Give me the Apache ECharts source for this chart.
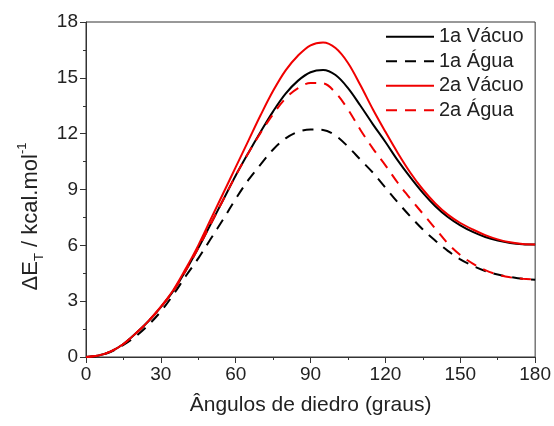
<!DOCTYPE html>
<html>
<head>
<meta charset="utf-8">
<script src="https://cdn.jsdelivr.net/npm/echarts@6/dist/echarts.min.js"></script>
<style>
  html, body { margin: 0; padding: 0; background: #fff; }
  #chart { width: 554px; height: 426px; }
</style>
</head>
<body>
<div id="chart"></div>
<script>
// Dihedral angle (degrees)
const angles = [0,5,10,15,20,25,30,35,40,45,50,55,60,65,70,75,80,85,90,95,100,105,110,115,120,125,130,135,140,145,150,155,160,165,170,175,180];
// 1a Vácuo (black solid)
const vacuo1 = [0,0.08,0.3,0.7,1.27,1.92,2.68,3.55,4.65,5.85,7.15,8.45,9.75,10.95,12.1,13.2,14.15,14.85,15.3,15.42,15.15,14.45,13.5,12.5,11.55,10.55,9.65,8.82,8.1,7.52,7.07,6.72,6.45,6.26,6.13,6.06,6.04];
// 1a Água (black dashed)
const agua1 = [0,0.07,0.28,0.65,1.12,1.72,2.45,3.35,4.35,5.3,6.35,7.4,8.5,9.5,10.35,11.15,11.75,12.1,12.22,12.2,11.9,11.3,10.6,9.9,9.1,8.3,7.55,6.85,6.25,5.7,5.25,4.9,4.62,4.43,4.3,4.2,4.15];
// 2a Vácuo (red solid)
const vacuo2 = [0,0.08,0.3,0.7,1.28,1.93,2.7,3.6,4.75,6.0,7.4,8.8,10.2,11.6,13.0,14.3,15.4,16.2,16.75,16.9,16.6,15.8,14.6,13.3,12.1,10.95,9.9,9.0,8.25,7.65,7.2,6.85,6.55,6.32,6.16,6.07,6.05];
// 2a Água (red dashed)
const agua2 = [0,0.08,0.3,0.7,1.27,1.92,2.68,3.55,4.65,5.85,7.15,8.45,9.75,10.95,12.05,13.05,13.9,14.45,14.72,14.7,14.2,13.3,12.2,11.2,10.3,9.35,8.5,7.7,6.9,6.1,5.48,5.02,4.67,4.43,4.28,4.2,4.18];

const seriesNames = ['1a Vácuo', '1a Água', '2a Vácuo', '2a Água'];
const xTicks = { min: 0, max: 180, interval: 30 };
const yTicks = { min: 0, max: 18, interval: 3 };

const BLACK = '#000000';
const RED = '#f00000';
const DASH = [11, 8];
const FONT = '"Liberation Sans", Arial, sans-serif';

function pairs(ys) { return angles.map((a, i) => [a, ys[i]]); }

function mkSeries(name, ys, color, dashed) {
  return {
    name: name,
    type: 'line',
    data: pairs(ys),
    smooth: 0.35,
    symbol: 'none',
    showSymbol: false,
    lineStyle: { color: color, width: 2, type: dashed ? DASH : 'solid' },
    itemStyle: { color: color },
    emphasis: { disabled: true },
    animation: false
  };
}

const chart = echarts.init(document.getElementById('chart'), null, { renderer: 'canvas' });

const axisCommon = {
  axisLine: { show: true, lineStyle: { color: '#333', width: 1 } },
  axisTick: { show: true, inside: false, length: 6, lineStyle: { color: '#333' } },
  minorTick: { show: true, splitNumber: 2, length: 3, lineStyle: { color: '#333' } },
  splitLine: { show: false },
  axisLabel: { fontSize: 19, color: '#222', fontFamily: FONT, margin: 8 }
};

chart.setOption({
  backgroundColor: '#fff',
  animation: false,
  textStyle: { fontFamily: FONT },
  grid: { left: 86, right: 16, top: 22, bottom: 69, show: true, borderColor: '#333', borderWidth: 1, containLabel: false },
  legend: {
    data: seriesNames,
    orient: 'vertical',
    left: 385,
    top: 26.7,
    padding: 0,
    itemWidth: 48,
    itemHeight: 14,
    itemGap: 4.5,
    itemTextGap: 6,
    itemStyle: { opacity: 0, borderWidth: 0 },
    textStyle: { fontSize: 20, lineHeight: 20, color: '#222', fontFamily: FONT },
    selectedMode: false
  },
  xAxis: Object.assign({
    type: 'value',
    min: xTicks.min, max: xTicks.max, interval: xTicks.interval,
    name: 'Ângulos de diedro (graus)',
    nameLocation: 'middle',
    nameGap: 38,
    nameTextStyle: { fontSize: 21, color: '#222', fontFamily: FONT }
  }, axisCommon),
  yAxis: Object.assign({
    type: 'value',
    min: yTicks.min, max: yTicks.max, interval: yTicks.interval,
    name: '{a|ΔE}{sub|T}{a| / kcal.mol}{sup|-1}',
    nameLocation: 'middle',
    nameGap: 40,
    nameTextStyle: {
      color: '#222',
      fontFamily: FONT,
      fontSize: 22,
      padding: [0, 54, 0, 0],
      rich: {
        a: { fontSize: 22, lineHeight: 30, color: '#222', fontFamily: FONT },
        sub: { fontSize: 13, lineHeight: 13, verticalAlign: 'bottom', color: '#222', fontFamily: FONT },
        sup: { fontSize: 13, lineHeight: 13, verticalAlign: 'top', color: '#222', fontFamily: FONT }
      }
    }
  }, axisCommon),
  series: [
    mkSeries(seriesNames[0], vacuo1, BLACK, false),
    mkSeries(seriesNames[1], agua1, BLACK, true),
    mkSeries(seriesNames[2], vacuo2, RED, false),
    mkSeries(seriesNames[3], agua2, RED, true)
  ]
});
</script>
</body>
</html>
